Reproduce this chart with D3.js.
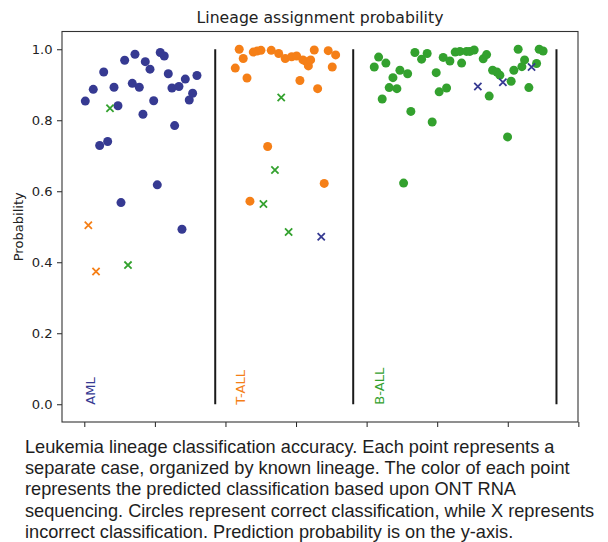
<!DOCTYPE html>
<html>
<head>
<meta charset="utf-8">
<script src="https://cdn.jsdelivr.net/npm/d3@7"></script>
<style>
  html, body { margin: 0; padding: 0; background: #fff; }
  svg { display: block; }
</style>
</head>
<body>
<svg id="chart" width="608" height="542"></svg>
<script>
// ── data ──
const lineages = ["AML", "T-ALL", "B-ALL"];

// AML cases: position along x, probability, predicted lineage
const amlPos  = [0.14, 0.57, 1.27, 1.66, 2.18, 2.75, 3.31, 3.64, 4.21, 4.77, 5.20, 5.72, 6.19, 6.80, 7.18, 7.79,
                 8.31, 8.64, 9.31, 9.83, 10.34, 10.76, 11.33, 11.90, 12.42, 12.80, 13.41, 13.84, 14.31, 14.87, 15.35, 15.96];
const amlProb = [0.854, 0.504, 0.887, 0.374, 0.729, 0.936, 0.740, 0.834, 0.893, 0.841, 0.568, 0.969, 0.392, 0.904, 0.986, 0.893,
                 0.817, 0.965, 0.944, 0.855, 0.618, 0.991, 0.981, 0.931, 0.891, 0.785, 0.895, 0.493, 0.916, 0.857, 0.876, 0.926];
const amlPred = ["AML", "T-ALL", "AML", "T-ALL", "AML", "AML", "AML", "B-ALL", "AML", "AML", "AML", "AML", "B-ALL", "AML", "AML", "AML",
                 "AML", "AML", "AML", "AML", "AML", "AML", "AML", "AML", "AML", "AML", "AML", "AML", "AML", "AML", "AML", "AML"];

// T-ALL cases
const tallPos  = [21.39, 21.95, 22.52, 23.05, 23.47, 23.94, 24.50, 25.03, 25.38, 25.98, 26.49, 27.01, 27.54, 27.90, 28.47,
                  28.95, 29.38, 30.08, 30.55, 30.98, 31.45, 31.75, 32.07, 32.58, 33.06, 33.57, 33.99, 34.56, 35.13, 35.61];
const tallProb = [0.947, 1.000, 0.974, 0.919, 0.572, 0.992, 0.995, 0.997, 0.564, 0.726, 0.997, 0.660, 0.988, 0.864, 0.974,
                  0.485, 0.979, 0.981, 0.912, 0.970, 0.965, 0.953, 0.970, 0.998, 0.889, 0.472, 0.622, 0.996, 0.950, 0.984];
const tallPred = ["T-ALL", "T-ALL", "T-ALL", "T-ALL", "T-ALL", "T-ALL", "T-ALL", "T-ALL", "B-ALL", "T-ALL", "T-ALL", "B-ALL", "T-ALL", "B-ALL", "T-ALL",
                  "B-ALL", "T-ALL", "T-ALL", "T-ALL", "T-ALL", "T-ALL", "T-ALL", "T-ALL", "T-ALL", "T-ALL", "AML", "T-ALL", "T-ALL", "T-ALL", "T-ALL"];

// B-ALL cases
const ballPos  = [41.08, 41.70, 42.21, 42.73, 43.20, 43.73, 44.29, 44.72, 45.24, 45.81, 46.27, 46.84, 47.79, 48.58, 49.29,
                  49.86, 50.28, 50.85, 51.33, 51.80, 52.55, 53.22, 53.46, 54.16, 54.63, 55.24, 55.76, 56.52, 57.00, 57.37,
                  57.85, 58.46, 58.88, 59.31, 59.97, 60.48, 60.86, 61.47, 62.00, 62.38, 62.99, 63.37, 64.08, 64.45, 65.01];
const ballProb = [0.950, 0.978, 0.860, 0.961, 0.892, 0.920, 0.889, 0.941, 0.623, 0.931, 0.825, 0.991, 0.972, 0.988, 0.795,
                  0.934, 0.880, 0.977, 0.891, 0.967, 0.992, 0.994, 0.961, 0.994, 0.994, 0.998, 0.895, 0.973, 0.985, 0.868,
                  0.941, 0.936, 0.927, 0.907, 0.753, 0.910, 0.941, 1.000, 0.951, 0.970, 0.892, 0.950, 0.960, 1.000, 0.995];
const ballPred = ["B-ALL", "B-ALL", "B-ALL", "B-ALL", "B-ALL", "B-ALL", "B-ALL", "B-ALL", "B-ALL", "B-ALL", "B-ALL", "B-ALL", "B-ALL", "B-ALL", "B-ALL",
                  "B-ALL", "B-ALL", "B-ALL", "B-ALL", "B-ALL", "B-ALL", "B-ALL", "B-ALL", "B-ALL", "B-ALL", "B-ALL", "AML", "B-ALL", "B-ALL", "B-ALL",
                  "B-ALL", "B-ALL", "B-ALL", "AML", "B-ALL", "B-ALL", "B-ALL", "B-ALL", "B-ALL", "B-ALL", "B-ALL", "AML", "B-ALL", "B-ALL", "B-ALL"];

const dividers = [18.55, 38.1, 66.9];
const xTicks = [0, 10, 20, 30, 40, 50, 60, 70];
const yTicks = [0, 0.2, 0.4, 0.6, 0.8, 1.0];

const titleText = "Lineage assignment probability";
const yLabel = "Probability";
const caption = [
  "Leukemia lineage classification accuracy. Each point represents a",
  "separate case, organized by known lineage. The color of each point",
  "represents the predicted classification based upon ONT RNA",
  "sequencing. Circles represent correct classification, while X represents",
  "incorrect classification. Prediction probability is on the y-axis."
];

// ── setup ──
const colors = { "AML": "#363a92", "T-ALL": "#f57f17", "B-ALL": "#33a12e" };
const mplFont = "'DejaVu Sans', sans-serif";

const svg = d3.select("#chart");
const plot = { left: 62, right: 578, top: 31.5, bottom: 422 };

const x = d3.scaleLinear().domain([-3.16, 69.95]).range([plot.left, plot.right]);
const y = d3.scaleLinear().domain([-0.05, 1.05]).range([plot.bottom, plot.top]);

const groups = [
  { name: "AML",   pos: amlPos,  prob: amlProb,  pred: amlPred },
  { name: "T-ALL", pos: tallPos, prob: tallProb, pred: tallPred },
  { name: "B-ALL", pos: ballPos, prob: ballProb, pred: ballPred },
];

const cases = groups.flatMap((g) =>
  g.pos.map((p, i) => ({ lineage: g.name, pos: p, prob: g.prob[i], pred: g.pred[i] }))
);

// ── axes ──
const yAxis = svg.append("g")
  .attr("transform", `translate(${plot.left},0)`)
  .call(d3.axisLeft(y).tickValues(yTicks).tickFormat(d3.format(".1f")).tickSize(5).tickPadding(4.5));

const xAxis = svg.append("g")
  .attr("transform", `translate(0,${plot.bottom})`)
  .call(d3.axisBottom(x).tickValues(xTicks).tickFormat("").tickSize(5));

[yAxis, xAxis].forEach((a) => {
  a.select(".domain").remove();
  a.selectAll(".tick line").attr("stroke", "#222").attr("stroke-width", 1);
  a.selectAll(".tick text")
    .attr("fill", "#222")
    .style("font-family", mplFont)
    .style("font-size", "13.1px");
});

// frame
svg.append("rect")
  .attr("x", plot.left).attr("y", plot.top)
  .attr("width", plot.right - plot.left).attr("height", plot.bottom - plot.top)
  .attr("fill", "none").attr("stroke", "#333").attr("stroke-width", 1.1);

// ── separators ──
svg.append("g").selectAll("line")
  .data(dividers)
  .join("line")
  .attr("x1", (d) => x(d)).attr("x2", (d) => x(d))
  .attr("y1", y(0)).attr("y2", y(1))
  .attr("stroke", "#1a1a1a").attr("stroke-width", 2);

// ── lineage labels ──
svg.append("g").selectAll("text")
  .data(groups)
  .join("text")
  .attr("transform", (d) => `translate(${x(d3.min(d.pos) + 1.35)},${y(0) + 0.5}) rotate(-90)`)
  .attr("text-anchor", "start")
  .attr("fill", (d) => colors[d.name])
  .style("font-family", mplFont)
  .style("font-size", "13.1px")
  .text((d) => d.name);

// ── points ──
const correct = cases.filter((d) => d.pred === d.lineage);
const wrong = cases.filter((d) => d.pred !== d.lineage);

svg.append("g").selectAll("circle")
  .data(correct)
  .join("circle")
  .attr("cx", (d) => x(d.pos))
  .attr("cy", (d) => y(d.prob))
  .attr("r", 4.5)
  .attr("fill", (d) => colors[d.pred]);

const xs = 3.6;
svg.append("g").selectAll("path")
  .data(wrong)
  .join("path")
  .attr("d", (d) => {
    const cx = x(d.pos), cy = y(d.prob);
    return `M${cx - xs},${cy - xs}L${cx + xs},${cy + xs}M${cx - xs},${cy + xs}L${cx + xs},${cy - xs}`;
  })
  .attr("stroke", (d) => colors[d.pred])
  .attr("stroke-width", 1.8)
  .attr("fill", "none");

// ── title & y label ──
svg.append("text")
  .attr("x", (plot.left + plot.right) / 2)
  .attr("y", 22.5)
  .attr("text-anchor", "middle")
  .attr("fill", "#222")
  .style("font-family", mplFont)
  .style("font-size", "15.7px")
  .text(titleText);

svg.append("text")
  .attr("transform", `translate(23,${(plot.top + plot.bottom) / 2}) rotate(-90)`)
  .attr("text-anchor", "middle")
  .attr("fill", "#222")
  .style("font-family", mplFont)
  .style("font-size", "13.1px")
  .text(yLabel);

// ── caption ──
svg.append("g").selectAll("text")
  .data(caption)
  .join("text")
  .attr("x", 25)
  .attr("y", (d, i) => 453 + i * 21.2)
  .attr("fill", "#1e1e1e")
  .style("font-family", "'Liberation Sans', Arial, sans-serif")
  .style("font-size", "18.2px")
  .text((d) => d);
</script>
</body>
</html>
